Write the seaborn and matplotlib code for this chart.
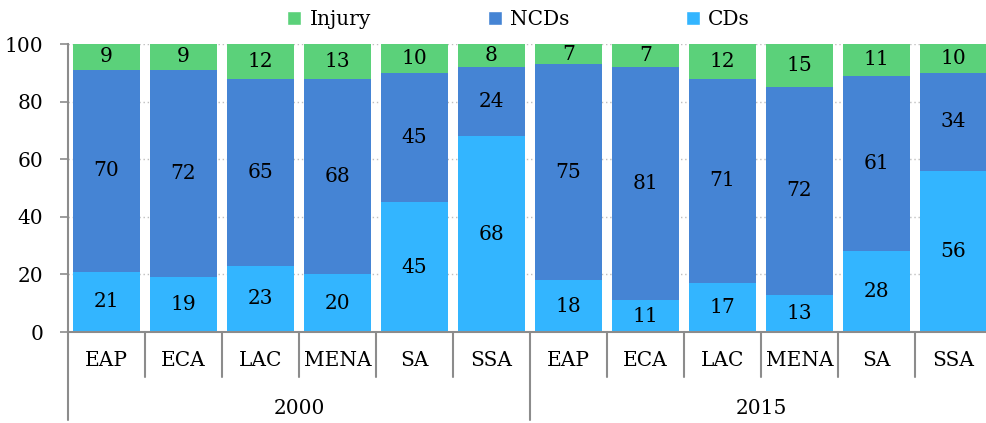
import numpy as np
import pandas as pd
import seaborn as sns
import matplotlib.pyplot as plt
from matplotlib.patches import Patch
import matplotlib.transforms as mtransforms

regions = ["EAP", "ECA", "LAC", "MENA", "SA", "SSA"]
years = ["2000", "2015"]
cds = [21, 19, 23, 20, 45, 68, 18, 11, 17, 13, 28, 56]
ncds = [70, 72, 65, 68, 45, 24, 75, 81, 71, 72, 61, 34]
injury = [9, 9, 12, 13, 10, 8, 7, 7, 12, 15, 11, 10]
total = 100  # shares of total deaths, %

colors = {"Injury": "#5bd17a", "NCDs": "#4584d4", "CDs": "#33b5ff"}

sns.set_style("white")
plt.rcParams["font.family"] = ["DejaVu Serif"]
plt.rcParams["font.size"] = 14
plt.rcParams["text.color"] = "black"
plt.rcParams["ytick.labelcolor"] = "black"

keys = [f"{y}-{r}" for y in years for r in regions]
df = pd.DataFrame({"key": keys, "CDs": cds, "NCDs": ncds, "Injury": injury})
df["top_ncd"] = df["CDs"] + df["NCDs"]
df["total"] = total

fig = plt.figure(figsize=(9.86, 4.23), dpi=100)
ax = fig.add_axes([68 / 986, 1 - 332 / 423, (992 - 68) / 986, 288 / 423])

# overlapping cumulative bars = stacked look
sns.barplot(data=df, x="key", y="total", order=keys, color=colors["Injury"],
            width=0.88, saturation=1, ax=ax, edgecolor="none")
sns.barplot(data=df, x="key", y="top_ncd", order=keys, color=colors["NCDs"],
            width=0.88, saturation=1, ax=ax, edgecolor="none")
sns.barplot(data=df, x="key", y="CDs", order=keys, color=colors["CDs"],
            width=0.88, saturation=1, ax=ax, edgecolor="none")

fs = 14.5
for i, row in df.iterrows():
    ax.text(i, row["CDs"] / 2, str(row["CDs"]), ha="center", va="center", fontsize=fs)
    ax.text(i, row["CDs"] + row["NCDs"] / 2, str(row["NCDs"]), ha="center", va="center", fontsize=fs)
    ax.text(i, (row["top_ncd"] + row["total"]) / 2, str(row["Injury"]),
            ha="center", va="center", fontsize=fs)

ax.set_ylim(0, 100)
ax.set_xlim(-0.5, len(keys) - 0.5)
ax.set_yticks(range(0, 101, 20))
ax.yaxis.grid(True, linestyle=(0, (1, 2)), color="#bfbfbf", linewidth=1)
ax.set_axisbelow(True)
ax.tick_params(axis="y", length=6, width=1.2, color="#8c8c8c", pad=12, labelsize=fs,
               left=True, labelcolor="black")
ax.set_xticks([])
ax.set_xlabel("")
ax.set_ylabel("")
for s in ["top", "right"]:
    ax.spines[s].set_visible(False)
for s in ["left", "bottom"]:
    ax.spines[s].set_color("#8c8c8c")
    ax.spines[s].set_linewidth(1.5)

# two-level category axis
trans = mtransforms.blended_transform_factory(ax.transData, ax.transAxes)
for i in range(len(keys) + 1):
    low = -0.306 if i % len(regions) == 0 else -0.156
    ax.plot([i - 0.5, i - 0.5], [0, low], transform=trans, color="#8c8c8c",
            linewidth=1.5, clip_on=False)
for i, k in enumerate(keys):
    ax.text(i, -0.10, k.split("-")[1], transform=trans, ha="center", va="center", fontsize=fs)
for j, y in enumerate(years):
    mid = j * len(regions) + (len(regions) - 1) / 2
    ax.text(mid, -0.264, y, transform=trans, ha="center", va="center", fontsize=fs)

handles = [Patch(facecolor=colors[n], label=n) for n in ["Injury", "NCDs", "CDs"]]
fig.legend(handles=handles, loc="center", bbox_to_anchor=(0.526, 0.953), ncol=3,
           frameon=False, fontsize=fs, handlelength=0.7, handleheight=0.7,
           handletextpad=0.4, columnspacing=5.8, borderpad=0)

fig.savefig("out.png", dpi=100)
